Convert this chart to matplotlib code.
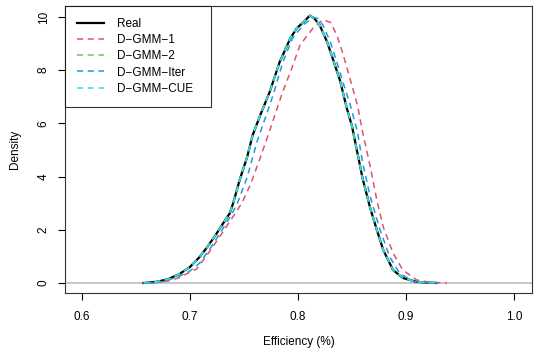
import matplotlib
matplotlib.use("Agg")
import matplotlib.pyplot as plt

plt.rcParams['font.family'] = ['Liberation Sans', 'DejaVu Sans']

real_x = [0.657, 0.670, 0.680, 0.690, 0.700, 0.709, 0.716, 0.725, 0.731, 0.737, 0.740, 0.746,
          0.753, 0.758, 0.765, 0.774, 0.783, 0.793, 0.799, 0.805, 0.811, 0.815, 0.820, 0.827,
          0.832, 0.839, 0.845, 0.850, 0.855, 0.860, 0.867, 0.873, 0.879, 0.888, 0.897, 0.910, 0.928]
real_y = [0.0, 0.05, 0.15, 0.33, 0.60, 0.98, 1.35, 1.88, 2.26, 2.63, 3.0, 3.87,
          4.74, 5.55, 6.3, 7.2, 8.3, 9.2, 9.58, 9.8, 10.05, 9.95, 9.7, 9.06,
          8.46, 7.6, 6.6, 5.9, 4.9, 3.9, 2.8, 2.0, 1.24, 0.49, 0.19, 0.04, 0.0]

gmm1_x = [0.666, 0.680, 0.690, 0.697, 0.706, 0.7185, 0.731, 0.740, 0.748, 0.756, 0.765, 0.774,
          0.781, 0.786, 0.793, 0.802, 0.814, 0.823, 0.830, 0.836, 0.842, 0.848, 0.855, 0.860,
          0.867, 0.873, 0.879, 0.888, 0.897, 0.910, 0.922, 0.938]
gmm1_y = [0.0, 0.08, 0.2, 0.35, 0.52, 1.2, 1.95, 2.5, 3.0, 3.7, 4.7, 5.75,
          6.6, 7.2, 7.93, 8.95, 9.58, 9.89, 9.8, 9.32, 8.57, 7.7, 6.7, 5.64,
          4.36, 3.12, 2.1, 1.13, 0.49, 0.11, 0.03, 0.0]

gmm2_x = [0.657, 0.670, 0.680, 0.690, 0.700, 0.709, 0.716, 0.725, 0.731, 0.737, 0.740, 0.746,
          0.753, 0.758, 0.765, 0.774, 0.783, 0.793, 0.799, 0.805, 0.811, 0.815, 0.820, 0.827,
          0.832, 0.839, 0.845, 0.850, 0.855, 0.860, 0.867, 0.873, 0.879, 0.888, 0.897, 0.910, 0.928]
gmm2_y = [0.0, 0.05, 0.15, 0.33, 0.60, 0.98, 1.35, 1.88, 2.26, 2.63, 3.0, 3.87,
          4.74, 5.55, 6.3, 7.2, 8.3, 9.2, 9.58, 9.8, 10.05, 9.95, 9.7, 9.06,
          8.46, 7.6, 6.6, 5.9, 4.9, 3.9, 2.8, 2.0, 1.24, 0.49, 0.19, 0.04, 0.0]

iter_x = [0.660, 0.675, 0.690, 0.700, 0.709, 0.718, 0.728, 0.736, 0.7435, 0.753, 0.762, 0.774,
          0.777, 0.786, 0.795, 0.805, 0.814, 0.818, 0.823, 0.830, 0.836, 0.842, 0.848, 0.855,
          0.860, 0.867, 0.876, 0.885, 0.894, 0.907, 0.930]
iter_y = [0.0, 0.05, 0.25, 0.45, 0.75, 1.25, 1.88, 2.4, 2.95, 3.98, 5.3, 6.7,
          7.07, 8.3, 9.2, 9.7, 9.98, 9.95, 9.7, 9.06, 8.3, 7.5, 6.75, 5.7,
          4.5, 3.23, 2.0, 0.98, 0.37, 0.05, 0.0]

cue_x = [0.657, 0.670, 0.680, 0.690, 0.700, 0.709, 0.716, 0.725, 0.731, 0.737, 0.740, 0.746,
         0.753, 0.758, 0.765, 0.774, 0.783, 0.793, 0.799, 0.805, 0.811, 0.815, 0.820, 0.827,
         0.832, 0.839, 0.845, 0.850, 0.855, 0.860, 0.867, 0.873, 0.879, 0.888, 0.897, 0.910, 0.928]
cue_y = [0.0, 0.05, 0.15, 0.33, 0.60, 0.98, 1.35, 1.88, 2.26, 2.63, 3.0, 3.87,
         4.74, 5.55, 6.3, 7.2, 8.3, 9.2, 9.58, 9.8, 10.05, 9.95, 9.7, 9.06,
         8.46, 7.6, 6.6, 5.9, 4.9, 3.9, 2.8, 2.0, 1.24, 0.49, 0.19, 0.04, 0.0]

labels = ["Real", "D\u2212GMM\u22121", "D\u2212GMM\u22122", "D\u2212GMM\u2212Iter", "D\u2212GMM\u2212CUE  "]
colors = ["black", "#DF536B", "#61D04F", "#2297E6", "#28E2E5"]
x_ticks = [0.6, 0.7, 0.8, 0.9, 1.0]
x_ticklabels = ["0.6", "0.7", "0.8", "0.9", "1.0"]
y_ticks = [0, 2, 4, 6, 8, 10]

fig = plt.figure(figsize=(5.34, 3.55), dpi=100)
ax = fig.add_axes([65/534, 1 - 293/355, (532 - 65)/534, (293 - 6)/355])

ax.axhline(0, color="#BEBEBE", lw=1.2, zorder=1)
series = [(real_x, real_y), (gmm1_x, gmm1_y), (gmm2_x, gmm2_y), (iter_x, iter_y), (cue_x, cue_y)]
for i, ((xs, ys), lab, c) in enumerate(zip(series, labels, colors)):
    if i == 0:
        ax.plot(xs, ys, color=c, lw=1.6, label=lab, zorder=2, solid_joinstyle="round")
    else:
        ax.plot(xs, ys, color=c, lw=1.1, ls=(0, (4, 3)), label=lab, zorder=3)

ax.set_xlim(0.5843, 1.0167)
ax.set_ylim(-0.376, 10.41)
ax.set_xticks(x_ticks)
ax.set_xticklabels(x_ticklabels)
ax.set_yticks(y_ticks)
for lbl in ax.get_yticklabels():
    lbl.set_rotation(90)
    lbl.set_va("center")
ax.tick_params(axis="x", labelsize=8.5, length=5, width=0.8, pad=8)
ax.tick_params(axis="y", labelsize=8.5, length=5, width=0.8, pad=6)
for s in ax.spines.values():
    s.set_linewidth(0.8)
    s.set_color("#333333")
ax.set_xlabel("Efficiency (%)", fontsize=8.5, labelpad=9)
ax.set_ylabel("Density", fontsize=8.5, labelpad=12)

leg = ax.legend(loc="upper left", fontsize=8.5, frameon=True, fancybox=False,
                borderaxespad=0, handlelength=2.3, borderpad=1.0, labelspacing=0.36,
                handletextpad=1.1)
leg.get_frame().set_edgecolor("black")
leg.get_frame().set_linewidth(0.8)

fig.savefig("out.png", dpi=100)
